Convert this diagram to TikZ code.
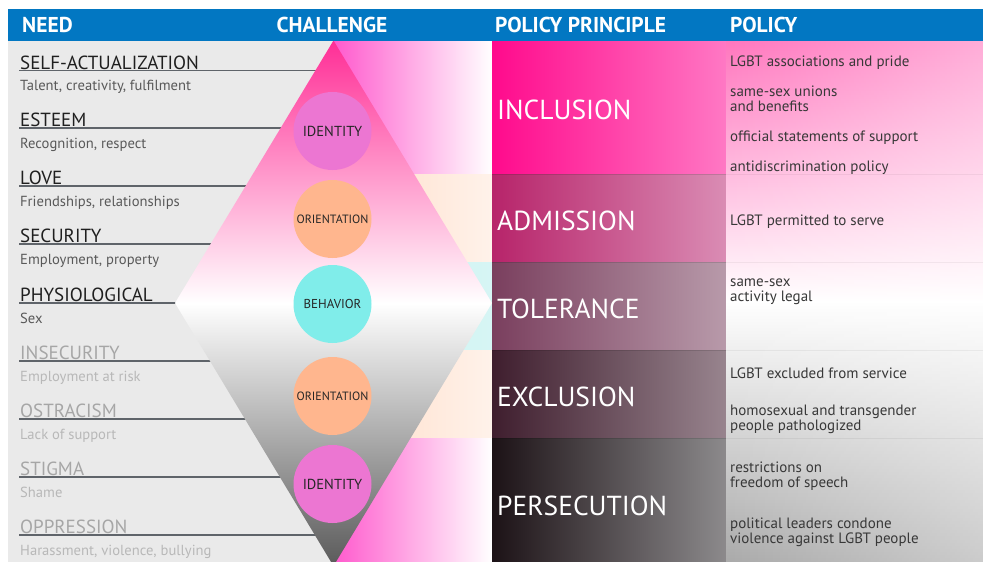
\documentclass[tikz,border=0pt]{standalone}
\usepackage{fontspec}
\setmainfont{PT Sans}
\usepackage{xcolor}
\definecolor{azul}{RGB}{2,119,194}
\definecolor{grisfondo}{RGB}{234,234,234}
\definecolor{rosadiam}{RGB}{255,46,150}
\definecolor{grisdiam}{RGB}{90,90,90}
\definecolor{rosabanda}{RGB}{255,90,205}
\definecolor{melocoton}{RGB}{255,220,198}
\definecolor{melocotonb}{RGB}{255,242,234}
\definecolor{cianbanda}{RGB}{204,243,242}
\definecolor{identidad}{RGB}{236,118,210}
\definecolor{orientacion}{RGB}{255,182,142}
\definecolor{conducta}{RGB}{128,237,234}
\definecolor{incA}{RGB}{255,10,140}
\definecolor{incB}{RGB}{255,120,196}
\definecolor{admA}{RGB}{183,36,106}
\definecolor{admB}{RGB}{218,140,180}
\definecolor{tolA}{RGB}{122,63,94}
\definecolor{tolB}{RGB}{184,154,170}
\definecolor{excA}{RGB}{63,30,46}
\definecolor{excB}{RGB}{152,132,142}
\definecolor{perA}{RGB}{28,18,22}
\definecolor{perB}{RGB}{140,138,140}
\definecolor{polA}{RGB}{255,118,190}
\definecolor{polB}{RGB}{170,170,170}
\definecolor{lineagris}{RGB}{95,100,106}
\usepackage{tikz}
\usetikzlibrary{positioning, fadings}
\tikzfading[name=aclarar, left color=transparent!100, right color=transparent!60]

\begin{document}
\begin{tikzpicture}[x=1pt, y=-1pt,
    encabezado/.style={anchor=base west, inner sep=0pt, text=white, font=\bfseries\fontsize{21.5}{21.5}\selectfont},
    necesidad/.style={anchor=base west, inner sep=0pt, font=\fontsize{19}{19}\selectfont},
    detalle/.style={anchor=base west, inner sep=0pt, font=\fontsize{14.6}{14.6}\selectfont},
    reto/.style={circle, minimum size=78pt, inner sep=0pt, text=black!85, font=\fontsize{14.5}{14.5}\selectfont},
    principio/.style={anchor=west, inner sep=0pt, text=white, font=\fontsize{27.5}{27.5}\selectfont},
    politica/.style={anchor=base west, inner sep=0pt, align=left, text=black!78, font=\fontsize{15}{15}\selectfont}]
    \useasboundingbox (0,0) rectangle (983,562);

    % Fondo de la columna izquierda y bandas tras el rombo
    \fill[grisfondo] (8,40.5) rectangle (333.5,562);
    \shade[left color=rosabanda, right color=white] (333.5,40.5) rectangle (492,174);
    \shade[left color=melocoton, right color=melocotonb] (333.5,174) rectangle (492,262);
    \shade[left color=cianbanda, right color=cianbanda!80!white] (333.5,262) rectangle (492,350);
    \shade[left color=melocoton, right color=melocotonb] (333.5,350) rectangle (492,438);
    \shade[left color=rosabanda, right color=white] (333.5,438) rectangle (492,562);

    % Necesidades
    \foreach \y/\titulo/\texto [count=\i] in {70.5/SELF-ACTUALIZATION/{Talent, creativity, fulfilment},
        128/ESTEEM/{Recognition, respect}, 186/LOVE/{Friendships, relationships},
        244/SECURITY/{Employment, property}, 303/PHYSIOLOGICAL/Sex}{
      \draw[lineagris, line width=1.1pt] (19,\y) -- (333.5,\y);
      \node[necesidad, text=black!88] (nec\i) at (20,\y-1.5) {\titulo};
      \node[detalle, text=black!65] (det\i) at (20,\y+20) {\texto};
    }
    \foreach \y/\titulo/\texto [count=\i from 6] in {361/INSECURITY/{Employment at risk},
        419/OSTRACISM/{Lack of support}, 477/STIGMA/Shame,
        535/OPPRESSION/{Harassment, violence, bullying}}{
      \draw[lineagris, line width=1.1pt] (19,\y) -- (333.5,\y);
      \node[necesidad, text=black!35] (nec\i) at (20,\y-1.5) {\titulo};
      \node[detalle, text=black!28] (det\i) at (20,\y+20) {\texto};
    }

    % Rombo de retos
    \begin{scope}
      \clip (0,40.5) rectangle (983,562);
      \shade[top color=rosadiam, bottom color=grisdiam, middle color=white]
        (333.5,40.5) -- (492,303) -- (333.5,566) -- (175,303) -- cycle;
    \end{scope}
    \node[reto, fill=identidad] (ident1) at (332.5,131) {IDENTITY};
    \node[reto, fill=orientacion, font=\fontsize{12}{12}\selectfont] (orient1) at (332.5,219) {ORIENTATION};
    \node[reto, fill=conducta, font=\fontsize{12.9}{12.9}\selectfont] (conducta) at (332.5,304) {BEHAVIOR};
    \node[reto, fill=orientacion, font=\fontsize{12}{12}\selectfont] (orient2) at (332.5,396) {ORIENTATION};
    \node[reto, fill=identidad] (ident2) at (332.5,484) {IDENTITY};

    % Principios
    \shade[left color=incA, right color=incB] (492,40.5) rectangle (726,174);
    \shade[left color=admA, right color=admB] (492,174) rectangle (726,262);
    \shade[left color=tolA, right color=tolB] (492,262) rectangle (726,350);
    \shade[left color=excA, right color=excB] (492,350) rectangle (726,438);
    \shade[left color=perA, right color=perB] (492,438) rectangle (726,562);
    \node[principio] (inclusion) at (497,109.5) {INCLUSION};
    \node[principio] (admision) at (497,221) {ADMISSION};
    \node[principio] (tolerancia) at (497,309) {TOLERANCE};
    \node[principio] (exclusion) at (497,396.5) {EXCLUSION};
    \node[principio] (persecucion) at (497,506) {PERSECUTION};

    % Politicas
    \shade[top color=polA, bottom color=polB, middle color=white] (726,40.5) rectangle (983,562);
    \fill[white, path fading=aclarar] (726,40.5) rectangle (983,562);
    \foreach \y in {174,262,350,438}{
      \draw[black, opacity=0.12, line width=0.8pt] (492,\y) -- (726,\y);
      \draw[black, opacity=0.05, line width=0.8pt] (726,\y) -- (983,\y);
    }
    \node[politica] (pol1) at (730,66.7) {LGBT associations and pride};
    \node[politica] (pol2) at (730,111.7) {same-sex unions\\and benefits};
    \node[politica] (pol3) at (730,141.7) {official statements of support};
    \node[politica] (pol4) at (730,171.7) {antidiscrimination policy};
    \node[politica] (pol5) at (730,225.7) {LGBT permitted to serve};
    \node[politica] (pol6) at (730,301.7) {same-sex\\activity legal};
    \node[politica] (pol7) at (730,378.3) {LGBT excluded from service};
    \node[politica] (pol8) at (730,430) {homosexual and transgender\\people pathologized};
    \node[politica] (pol9) at (730,487.5) {restrictions on\\freedom of speech};
    \node[politica] (pol10) at (730,543) {political leaders condone\\violence against LGBT people};

    % Encabezado
    \fill[azul] (8,9) rectangle (983,40.5);
    \node[encabezado] (need) at (22,32) {NEED};
    \node[encabezado, anchor=base] (challenge) at (332,32) {CHALLENGE};
    \node[encabezado] (principle) at (495,32) {POLICY PRINCIPLE};
    \node[encabezado] (policy) at (730,32) {POLICY};
\end{tikzpicture}
\end{document}
